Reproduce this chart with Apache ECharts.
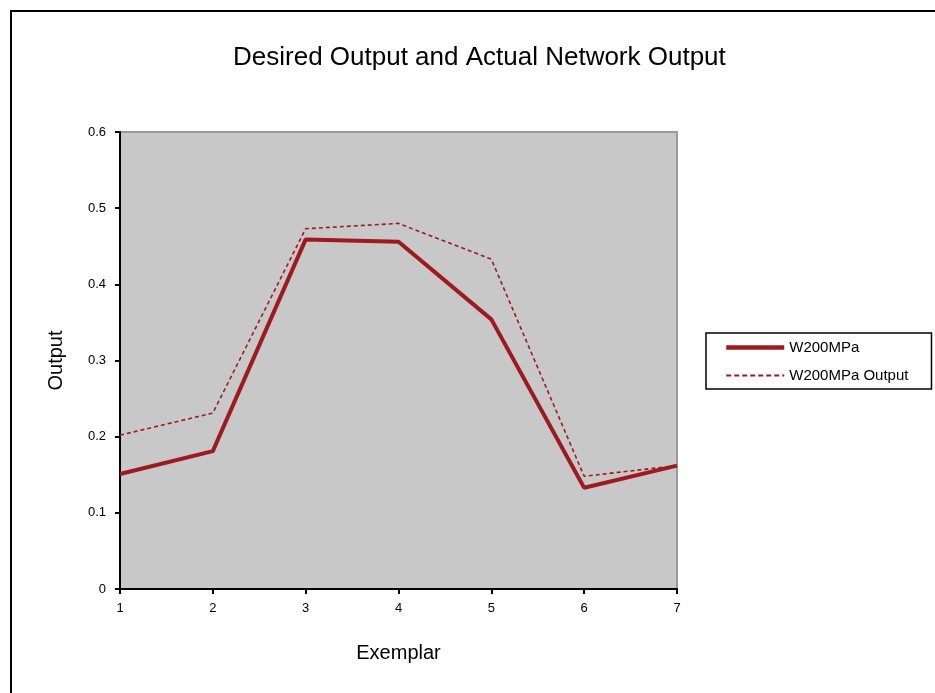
<!DOCTYPE html>
<html><head><meta charset="utf-8">
<script src="https://cdn.jsdelivr.net/npm/echarts@6/dist/echarts.min.js"></script>
<style>html,body{margin:0;padding:0;background:#fff;}#c{width:935px;height:693px;}</style>
</head><body><div id="c"></div>
<script>
var categories = ['1','2','3','4','5','6','7'];
var desired = [0.151, 0.181, 0.459, 0.456, 0.354, 0.133, 0.162];
var network = [0.202, 0.231, 0.473, 0.480, 0.433, 0.148, 0.162];
var seriesNames = ['W200MPa', 'W200MPa Output'];
var lineColor = '#9e1a1e';
var font = 'Liberation Sans';

var chart = echarts.init(document.getElementById('c'), null, {renderer: 'canvas'});
chart.setOption({
  animation: false,
  graphic: [{
    type: 'rect', left: 10, top: 10, z: -10,
    shape: {width: 960, height: 720},
    style: {fill: '#fff', stroke: '#000', lineWidth: 2}
  }],
  title: {
    text: 'Desired Output and Actual Network Output',
    left: 228, top: 40,
    textStyle: {fontFamily: font, fontSize: 26, fontWeight: 'normal', color: '#000'}
  },
  legend: {
    orient: 'vertical', left: 706, top: 333,
    padding: [7, 23, 6, 18],
    itemGap: 13,
    itemWidth: 58, itemHeight: 14,
    borderColor: '#000', borderWidth: 1.5,
    backgroundColor: '#fff',
    itemStyle: {opacity: 0},
    textStyle: {fontFamily: font, fontSize: 15, color: '#000'},
    data: [
      {name: seriesNames[0], lineStyle: {width: 4.5, color: lineColor}},
      {name: seriesNames[1], lineStyle: {width: 1.8, color: lineColor, type: [5, 3]}}
    ]
  },
  grid: {left: 120, top: 132, right: 258, bottom: 104, show: true,
    backgroundColor: '#c8c8c8', borderColor: '#9a9a9a', borderWidth: 2},
  xAxis: {
    type: 'category', data: categories, boundaryGap: false,
    name: 'Exemplar', nameLocation: 'middle', nameGap: 54,
    nameTextStyle: {fontFamily: font, fontSize: 20, color: '#000'},
    axisLine: {lineStyle: {color: '#000', width: 2}},
    axisTick: {show: true, alignWithLabel: true, length: 5, lineStyle: {color: '#000', width: 2}},
    axisLabel: {fontFamily: font, fontSize: 13, color: '#000', margin: 13},
    splitLine: {show: false}
  },
  yAxis: {
    type: 'value', min: 0, max: 0.6, interval: 0.1,
    name: 'Output', nameLocation: 'middle', nameGap: 54,
    nameTextStyle: {fontFamily: font, fontSize: 20, color: '#000'},
    axisLine: {show: true, lineStyle: {color: '#000', width: 2}},
    axisTick: {show: true, length: 5, lineStyle: {color: '#000', width: 2}},
    axisLabel: {fontFamily: font, fontSize: 13, color: '#000', margin: 14},
    splitLine: {show: false}
  },
  series: [{
    name: seriesNames[0], type: 'line', data: desired,
    symbol: 'none', lineStyle: {color: lineColor, width: 4},
    itemStyle: {color: lineColor}, z: 3
  }, {
    name: seriesNames[1], type: 'line', data: network,
    symbol: 'none', lineStyle: {color: lineColor, width: 1.6, type: [4, 3]},
    itemStyle: {color: lineColor}, z: 2
  }]
});
</script></body></html>
